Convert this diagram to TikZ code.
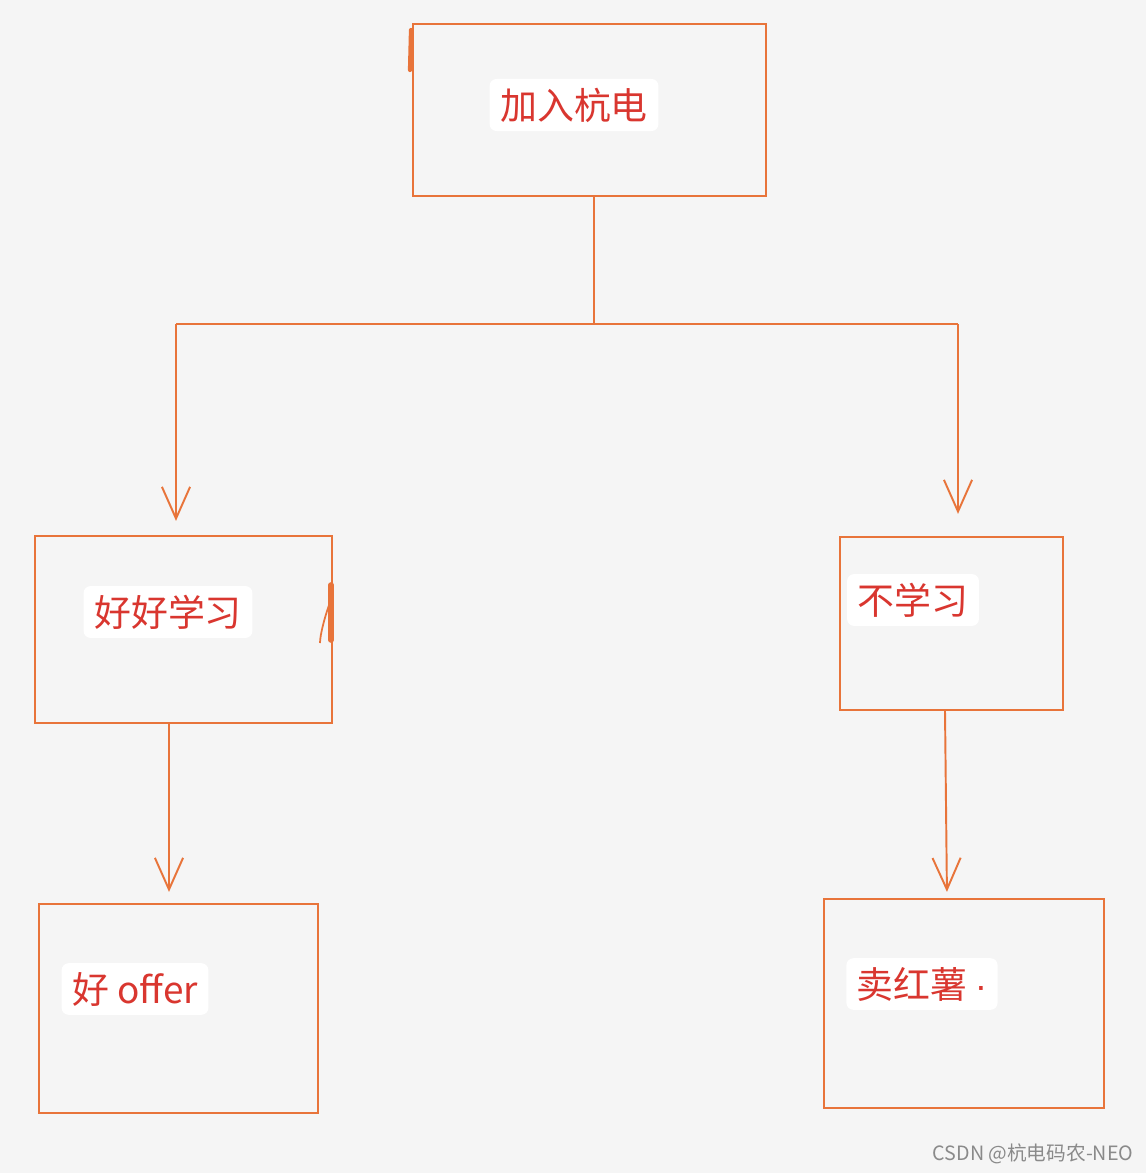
\documentclass[tikz,border=0pt]{standalone}
\usepackage{fontspec}
\setmainfont{Noto Sans CJK SC}
\newfontfamily\dotfont{Liberation Sans}
\usetikzlibrary{arrows.meta}
\definecolor{bgc}{HTML}{F5F5F5}
\definecolor{linec}{HTML}{E8743A}
\definecolor{txtc}{HTML}{D9362F}
\definecolor{wmc}{HTML}{8A8A8A}
\tikzset{
  box/.style={draw=linec, line width=0.6pt, rectangle, inner sep=0pt},
  lab/.style={fill=white, rounded corners=2pt, text=txtc, inner xsep=3pt, inner ysep=2.5pt,
              font=\fontsize{10.5pt}{12pt}\selectfont, anchor=center},
  conn/.style={draw=linec, line width=0.55pt},
  arr/.style={conn, -{Straight Barb[length=9pt,width=8pt,line width=0.55pt]}},
}
\begin{document}
\begin{tikzpicture}[x=0.01cm,y=-0.01cm]
\fill[bgc] (0,0) rectangle (1146,1173);
\useasboundingbox (0,0) rectangle (1146,1173);
% boxes
\node[box, minimum width=3.53cm, minimum height=1.72cm] (b1) at (589.5,110) {};
\node[box, minimum width=2.97cm, minimum height=1.87cm] (b2) at (183.5,629.5) {};
\node[box, minimum width=2.23cm, minimum height=1.73cm] (b3) at (951.5,623.5) {};
\node[box, minimum width=2.79cm, minimum height=2.09cm] (b4) at (178.5,1008.5) {};
\node[box, minimum width=2.80cm, minimum height=2.09cm] (b5) at (964,1003.5) {};
% labels
\node[lab] (t1) at (574,105) {加入杭电};
\node[lab] (t2) at (168,612) {好好学习};
\node[lab] (t3) at (913,600) {不学习};
\node[lab] (t4) at (135,989) {好 offer};
\node[lab, inner xsep=3pt] (t5) at (922,984) {卖红薯\kern2pt{\dotfont ·}};
% connectors
\coordinate (jm) at (594,324);
\coordinate (jl) at (176,324);
\coordinate (jr) at (958,324);
\draw[conn] ([xshift=0.045cm]b1.south) -- (jm);
\draw[conn] (jl) -- (jr);
\draw[arr, shorten >=0.14cm] (jl) -- (jl |- b2.north);
\draw[arr, shorten >=0.22cm] (jr) -- (jr |- b3.north);
\draw[arr, shorten >=0.11cm] ([xshift=-0.145cm]b2.south) -- ([xshift=-0.095cm]b4.north);
\draw[arr, shorten >=0.06cm] ([xshift=-0.065cm]b3.south) -- ([xshift=-0.17cm]b5.north);
% hand-drawn marks
\draw[linec, line width=1.2pt, line cap=round] (411,30) -- (410,70);
\draw[linec, line width=1.6pt, line cap=round] (331,585) -- (331,640);
\draw[linec, line width=0.5pt] (331,600) .. controls (325,615) and (320,635) .. (320,643);
% watermark
\node[text=wmc, font=\fontsize{5.6pt}{7pt}\selectfont, inner sep=0pt] (wm) at (1033,1154) {CSDN @杭电码农-NEO};
\end{tikzpicture}
\end{document}
